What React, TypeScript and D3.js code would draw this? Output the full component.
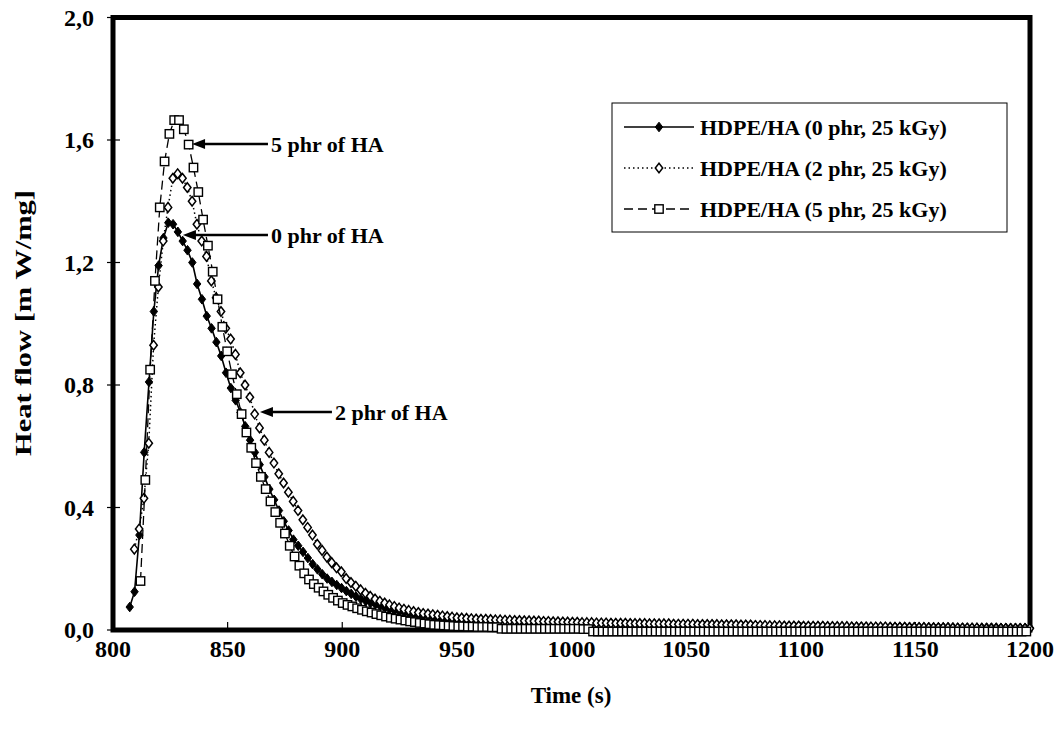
import React, { useEffect, useRef } from 'react';
import * as d3 from 'd3';

const WIDTH = 1060;
const HEIGHT = 729;

// DSC sampling interval (s) and first recorded time of each run
const STEP = 2.1;
const start0 = 807.3;
const start2 = 809.3;
const start5 = 812.0;

// heat flow (mW/mg), one value per sample
const hf0 = [
  0.075, 0.125, 0.31, 0.58, 0.81, 1.04, 1.19, 1.28, 1.33, 1.325,
  1.30, 1.27, 1.24, 1.20, 1.13, 1.08, 1.025, 0.985, 0.94, 0.895,
  0.84, 0.79, 0.75, 0.71, 0.665, 0.62, 0.58, 0.54, 0.50, 0.46,
  0.425, 0.39, 0.355, 0.325, 0.295, 0.275, 0.255, 0.235, 0.215, 0.198,
  0.182, 0.168, 0.157, 0.147, 0.137, 0.127, 0.118, 0.109, 0.101, 0.095,
  0.089, 0.084, 0.078, 0.073, 0.068, 0.064, 0.060, 0.057, 0.054, 0.051,
  0.048, 0.046, 0.044, 0.042, 0.040, 0.039, 0.038, 0.037, 0.036, 0.035,
  0.035, 0.034, 0.034, 0.033, 0.033, 0.032, 0.032, 0.031, 0.031, 0.030,
  0.030, 0.029, 0.029, 0.028, 0.028, 0.027, 0.027, 0.026, 0.026, 0.025,
  0.025, 0.024, 0.024, 0.024, 0.023, 0.023, 0.023, 0.022, 0.022, 0.022,
  0.022, 0.021, 0.021, 0.021, 0.021, 0.020, 0.020, 0.020, 0.020, 0.020,
  0.020, 0.019, 0.019, 0.019, 0.019, 0.019, 0.018, 0.018, 0.018, 0.018,
  0.018, 0.018, 0.017, 0.017, 0.017, 0.017, 0.017, 0.017, 0.016, 0.016,
  0.016, 0.014, 0.014, 0.014, 0.013, 0.013, 0.013, 0.013, 0.013, 0.012,
  0.012, 0.012, 0.012, 0.012, 0.012, 0.012, 0.011, 0.011, 0.011, 0.011,
  0.011, 0.011, 0.011, 0.011, 0.010, 0.010, 0.010, 0.010, 0.010, 0.010,
  0.010, 0.010, 0.010, 0.010, 0.009, 0.009, 0.009, 0.009, 0.009, 0.009,
  0.009, 0.009, 0.008, 0.008, 0.008, 0.008, 0.008, 0.008, 0.008, 0.008,
  0.008, 0.007, 0.007, 0.007, 0.007, 0.007, 0.007, 0.007,
];

const hf2 = [
  0.264, 0.33, 0.43, 0.61, 0.93, 1.12, 1.27, 1.38, 1.475, 1.49,
  1.475, 1.445, 1.40, 1.325, 1.27, 1.22, 1.14, 1.085, 1.04, 0.985,
  0.95, 0.90, 0.84, 0.80, 0.76, 0.705, 0.66, 0.62, 0.58, 0.545,
  0.51, 0.48, 0.45, 0.42, 0.39, 0.36, 0.335, 0.31, 0.28, 0.26,
  0.238, 0.22, 0.203, 0.19, 0.168, 0.155, 0.143, 0.131, 0.12, 0.11,
  0.101, 0.094, 0.088, 0.082, 0.077, 0.072, 0.068, 0.064, 0.060, 0.057,
  0.054, 0.052, 0.050, 0.048, 0.046, 0.044, 0.042, 0.040, 0.039, 0.038,
  0.037, 0.036, 0.035, 0.035, 0.034, 0.033, 0.033, 0.032, 0.032, 0.031,
  0.031, 0.030, 0.030, 0.029, 0.029, 0.028, 0.028, 0.027, 0.027, 0.026,
  0.026, 0.025, 0.025, 0.024, 0.024, 0.024, 0.023, 0.023, 0.023, 0.022,
  0.022, 0.022, 0.022, 0.021, 0.021, 0.021, 0.021, 0.020, 0.020, 0.020,
  0.020, 0.020, 0.019, 0.019, 0.019, 0.019, 0.019, 0.018, 0.018, 0.018,
  0.018, 0.018, 0.017, 0.017, 0.017, 0.017, 0.016, 0.016, 0.016, 0.015,
  0.015, 0.015, 0.014, 0.014, 0.014, 0.013, 0.013, 0.013, 0.013, 0.012,
  0.012, 0.012, 0.012, 0.012, 0.011, 0.011, 0.011, 0.011, 0.011, 0.010,
  0.010, 0.010, 0.010, 0.010, 0.010, 0.010, 0.010, 0.009, 0.009, 0.009,
  0.009, 0.008, 0.008, 0.008, 0.008, 0.007, 0.007, 0.007, 0.007, 0.007,
  0.006, 0.006, 0.006, 0.006, 0.006, 0.006, 0.005, 0.005, 0.005, 0.005,
  0.005, 0.005, 0.005, 0.005, 0.005, 0.005, 0.005,
];

const hf5 = [
  0.16, 0.49, 0.85, 1.14, 1.38, 1.53, 1.62, 1.665, 1.665, 1.635,
  1.585, 1.51, 1.43, 1.34, 1.255, 1.17, 1.08, 0.99, 0.91, 0.835,
  0.77, 0.705, 0.645, 0.595, 0.545, 0.50, 0.46, 0.42, 0.385, 0.35,
  0.315, 0.275, 0.24, 0.21, 0.185, 0.165, 0.15, 0.138, 0.126, 0.115,
  0.105, 0.096, 0.088, 0.082, 0.077, 0.071, 0.066, 0.061, 0.057, 0.052,
  0.048, 0.044, 0.040, 0.037, 0.034, 0.031, 0.028, 0.026, 0.023, 0.021,
  0.019, 0.017, 0.016, 0.015, 0.014, 0.013, 0.012, 0.012, 0.011, 0.011,
  0.010, 0.010, 0.010, 0.009, 0.009, 0.004, 0.004, 0.004, 0.004, 0.004,
  0.004, 0.004, 0.004, 0.004, 0.004, 0.004, 0.004, 0.004, 0.004, 0.004,
  0.004, 0.004, 0.003, 0.003, -0.005, -0.005, -0.005, -0.005, -0.005, -0.005,
  -0.005, -0.005, -0.005, -0.005, -0.005, -0.005, -0.005, -0.005, -0.005, -0.005,
  -0.005, -0.005, -0.005, -0.005, -0.005, -0.005, -0.005, -0.005, -0.005, -0.005,
  -0.005, -0.005, -0.005, -0.005, -0.005, -0.005, -0.005, -0.005, -0.005, -0.005,
  -0.005, -0.005, -0.005, -0.005, -0.005, -0.005, -0.005, -0.005, -0.005, -0.005,
  -0.005, -0.005, -0.005, -0.005, -0.005, -0.005, -0.005, -0.005, -0.005, -0.005,
  -0.005, -0.005, -0.005, -0.005, -0.005, -0.005, -0.005, -0.005, -0.005, -0.005,
  -0.005, -0.005, -0.005, -0.005, -0.005, -0.005, -0.005, -0.005, -0.005, -0.005,
  -0.005, -0.005, -0.005, -0.005, -0.005, -0.005, -0.005, -0.005, -0.005, -0.005,
  -0.005, -0.005, -0.005, -0.005, -0.005,
];

const seriesNames = [
  'HDPE/HA (0 phr, 25 kGy)',
  'HDPE/HA (2 phr, 25 kGy)',
  'HDPE/HA (5 phr, 25 kGy)',
];

const xTicks = [800, 850, 900, 950, 1000, 1050, 1100, 1150, 1200];
const yTicks = [0, 0.4, 0.8, 1.2, 1.6, 2.0];

// arrow annotations: label, arrow tip (t, v), arrow tail t
const noteLabels = ['5 phr of HA', '0 phr of HA', '2 phr of HA'];
const noteTipT = [834.5, 830.5, 864.1];
const noteTailT = [867.6, 867.6, 895.5];
const noteV = [1.587, 1.29, 0.712];

type Marker = 'filledDiamond' | 'openDiamond' | 'square';

const drawMarker = (g: any, kind: Marker, cx: number, cy: number) => {
  if (kind === 'square') {
    g.append('rect')
      .attr('x', cx - 4.2)
      .attr('y', cy - 4.2)
      .attr('width', 8.4)
      .attr('height', 8.4)
      .attr('fill', '#fff')
      .attr('stroke', '#000')
      .attr('stroke-width', 1.4);
  } else {
    g.append('path')
      .attr('d', `M${cx},${cy - 4.8}L${cx + 3.7},${cy}L${cx},${cy + 4.8}L${cx - 3.7},${cy}Z`)
      .attr('fill', kind === 'filledDiamond' ? '#000' : '#fff')
      .attr('stroke', '#000')
      .attr('stroke-width', kind === 'filledDiamond' ? 1 : 1.5);
  }
};

const HeatFlowChart: React.FC = () => {
  const ref = useRef<SVGSVGElement>(null);

  useEffect(() => {
    const svg = d3.select(ref.current);
    svg.selectAll('*').remove();

    const font = '"Liberation Serif", "Times New Roman", serif';
    const x = d3.scaleLinear().domain([800, 1200]).range([113, 1030]);
    const y = d3.scaleLinear().domain([0, 2]).range([630, 17.5]);

    const bold = (sel: any, size: number) =>
      sel.style('font-family', font).style('font-weight', 'bold').style('font-size', `${size}px`);

    svg.append('rect').attr('width', WIDTH).attr('height', HEIGHT).attr('fill', '#fff');

    // ticks
    svg.selectAll('.ytick')
      .data(yTicks)
      .enter()
      .append('line')
      .attr('x1', 107)
      .attr('x2', 120)
      .attr('y1', d => y(d))
      .attr('y2', d => y(d))
      .attr('stroke', '#000')
      .attr('stroke-width', 1.2);

    svg.selectAll('.xtick')
      .data(xTicks)
      .enter()
      .append('line')
      .attr('x1', d => x(d))
      .attr('x2', d => x(d))
      .attr('y1', 630)
      .attr('y2', 622)
      .attr('stroke', '#000')
      .attr('stroke-width', 1.2);

    // plot frame
    svg.append('rect')
      .attr('x', 113)
      .attr('y', 17.5)
      .attr('width', 1030 - 113)
      .attr('height', 630 - 17.5)
      .attr('fill', 'none')
      .attr('stroke', '#000')
      .attr('stroke-width', 5);

    // tick labels
    bold(svg.selectAll('.ylabel')
      .data(yTicks)
      .enter()
      .append('text')
      .attr('x', 94)
      .attr('y', d => y(d))
      .attr('dy', '0.35em')
      .attr('text-anchor', 'end'), 24)
      .text(d => d3.format('.1f')(d).replace('.', ','));

    bold(svg.selectAll('.xlabel')
      .data(xTicks)
      .enter()
      .append('text')
      .attr('x', d => x(d))
      .attr('y', 657)
      .attr('text-anchor', 'middle'), 24)
      .text(d => d);

    // axis titles
    bold(svg.append('text')
      .attr('x', 571)
      .attr('y', 703)
      .attr('text-anchor', 'middle'), 23)
      .text('Time (s)');

    bold(svg.append('text')
      .attr('transform', 'translate(31, 323) rotate(-90)')
      .attr('text-anchor', 'middle')
      .attr('textLength', 266)
      .attr('lengthAdjust', 'spacingAndGlyphs'), 23)
      .text('Heat flow [m W/mg]');

    // series
    const series = [
      { start: start0, values: hf0, dash: null, width: 1.6, marker: 'filledDiamond' as Marker },
      { start: start2, values: hf2, dash: '1.5,3', width: 1.5, marker: 'openDiamond' as Marker },
      { start: start5, values: hf5, dash: '9,5', width: 1.3, marker: 'square' as Marker },
    ];

    const line = d3.line<[number, number]>()
      .x(d => x(d[0]))
      .y(d => y(d[1]));

    series.forEach(s => {
      const pts: [number, number][] = s.values
        .map((v, i) => [s.start + i * STEP, v] as [number, number])
        .filter(d => d[0] <= 1200.5);
      const g = svg.append('g');
      g.append('path')
        .attr('d', line(pts))
        .attr('fill', 'none')
        .attr('stroke', '#000')
        .attr('stroke-width', s.width)
        .attr('stroke-dasharray', s.dash);
      pts.forEach(d => drawMarker(g, s.marker, x(d[0]), y(d[1])));
    });

    // annotations
    noteLabels.forEach((label, i) => {
      const yy = y(noteV[i]);
      const tip = x(noteTipT[i]);
      const tail = x(noteTailT[i]);
      svg.append('line')
        .attr('x1', tip + 10)
        .attr('x2', tail)
        .attr('y1', yy)
        .attr('y2', yy)
        .attr('stroke', '#000')
        .attr('stroke-width', 2.5);
      svg.append('path')
        .attr('d', `M${tip},${yy}L${tip + 13},${yy - 5}L${tip + 13},${yy + 5}Z`)
        .attr('fill', '#000');
      bold(svg.append('text')
        .attr('x', tail + 3)
        .attr('y', yy)
        .attr('dy', '0.35em'), 22)
        .text(label);
    });

    // legend
    const lg = svg.append('g');
    lg.append('rect')
      .attr('x', 612)
      .attr('y', 103)
      .attr('width', 1007 - 612)
      .attr('height', 129)
      .attr('fill', '#fff')
      .attr('stroke', '#000')
      .attr('stroke-width', 1);
    seriesNames.forEach((name, i) => {
      const yy = 127 + i * 41;
      const s = series[i];
      lg.append('line')
        .attr('x1', 624)
        .attr('x2', 694)
        .attr('y1', yy)
        .attr('y2', yy)
        .attr('stroke', '#000')
        .attr('stroke-width', s.width)
        .attr('stroke-dasharray', s.dash);
      drawMarker(lg, s.marker, 659, yy);
      bold(lg.append('text')
        .attr('x', 700)
        .attr('y', yy)
        .attr('dy', '0.35em'), 22)
        .text(name);
    });
  }, []);

  return (
    <svg
      ref={ref}
      width={WIDTH}
      height={HEIGHT}
      style={{ position: 'absolute', left: 0, top: 0 }}
    />
  );
};

export default function App() {
  return <HeatFlowChart />;
}
